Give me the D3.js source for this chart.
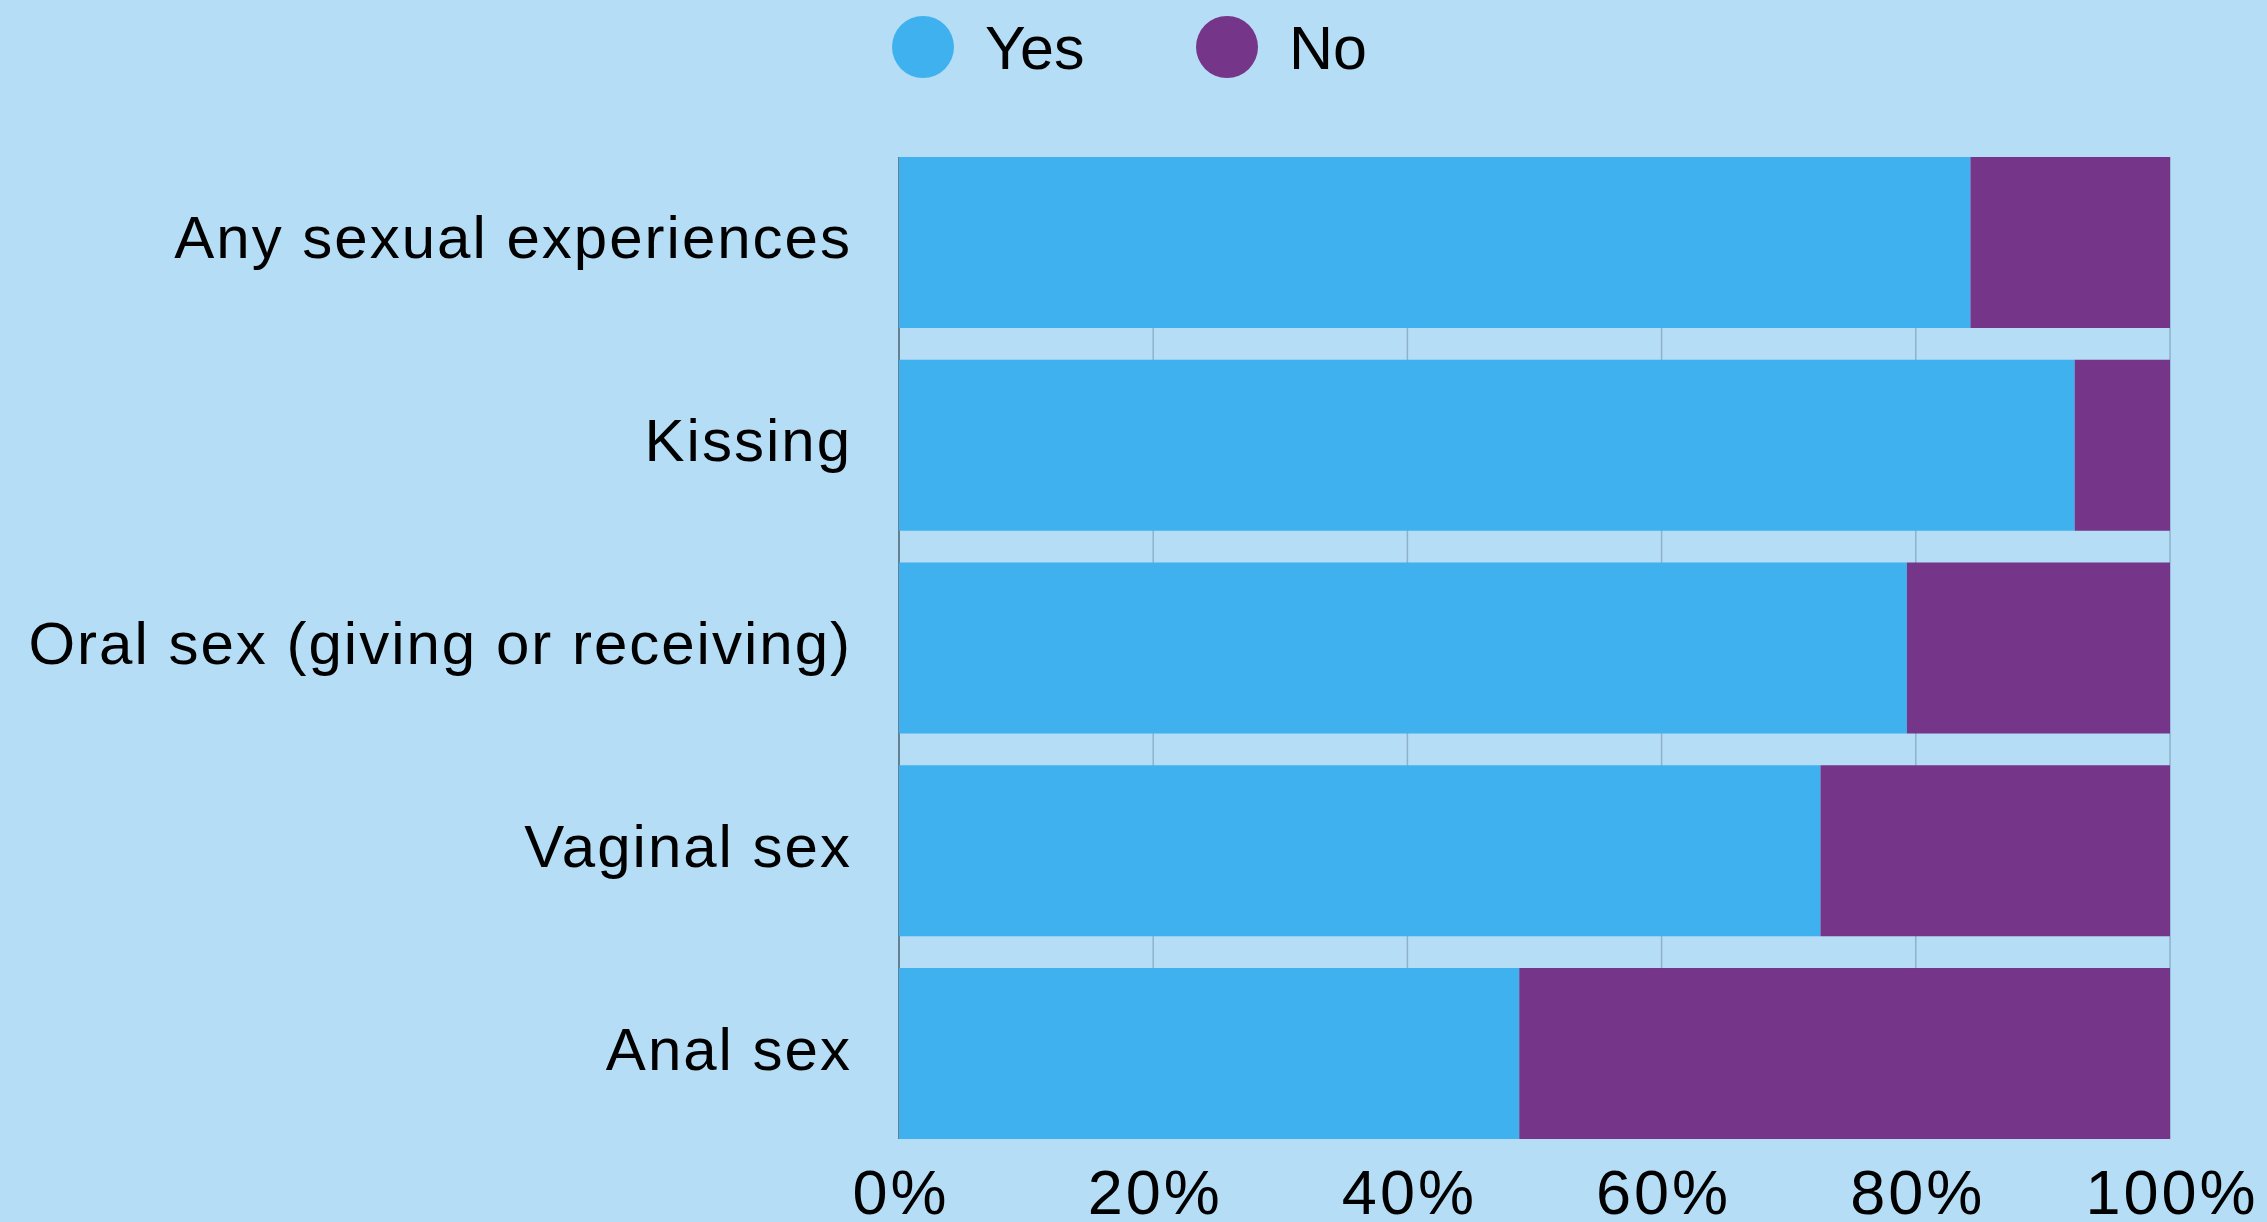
<!DOCTYPE html>
<html>
<head>
<meta charset="utf-8">
<script src="https://cdn.jsdelivr.net/npm/d3@7"></script>
<style>
  html, body { margin: 0; padding: 0; background: #b5ddf5; }
  svg { display: block; }
  text { font-family: "Liberation Sans", Arial, Helvetica, sans-serif; fill: #000; }
</style>
</head>
<body>
<svg id="chart" width="2267" height="1222"></svg>
<script>
const categories = ["Any sexual experiences", "Kissing", "Oral sex (giving or receiving)", "Vaginal sex", "Anal sex"];
const seriesNames = ["Yes", "No"];
const yesValues = [84.3, 92.5, 79.3, 72.5, 48.8];
const noValues = [15.7, 7.5, 20.7, 27.5, 51.2];
const tickValues = [0, 20, 40, 60, 80, 100];
const tickLabels = ["0%", "20%", "40%", "60%", "80%", "100%"];
const colors = ["#3fb1ee", "#753589"];

const W = 2267, H = 1222;
const margin = { left: 899, right: W - 2170, top: 157, bottom: H - 1139 };
const svg = d3.select("#chart");
svg.append("rect").attr("width", W).attr("height", H).attr("fill", "#b5ddf5");

const x = d3.scaleLinear().domain([0, 100]).range([margin.left, W - margin.right]);
const y = d3.scaleBand().domain(categories).range([margin.top, H - margin.bottom]).paddingInner(0.1566).paddingOuter(0);

// gridlines
svg.append("g").selectAll("line").data(tickValues).join("line")
  .attr("x1", d => x(d)).attr("x2", d => x(d))
  .attr("y1", margin.top).attr("y2", H - margin.bottom)
  .attr("stroke", d => d === 0 ? "#4b6072" : "#8eb2ca")
  .attr("stroke-width", 1.5);

// stacked data
const rows = categories.map((c, i) => ({ cat: c, Yes: yesValues[i], No: noValues[i] }));
const stack = d3.stack().keys(seriesNames)(rows);

svg.append("g").selectAll("g").data(stack).join("g")
  .attr("fill", (d, i) => colors[i])
  .selectAll("rect").data(d => d).join("rect")
  .attr("x", d => x(d[0]))
  .attr("width", d => x(d[1]) - x(d[0]))
  .attr("y", d => y(d.data.cat))
  .attr("height", y.bandwidth());

// category labels
svg.append("g").selectAll("text").data(categories).join("text")
  .attr("x", 852)
  .attr("y", d => y(d) + y.bandwidth() / 2 + 16)
  .attr("text-anchor", "end")
  .attr("font-size", 60)
  .attr("letter-spacing", 2)
  .text(d => d);

// x axis labels
svg.append("g").selectAll("text").data(tickValues).join("text")
  .attr("x", d => x(d) + 2)
  .attr("y", 1214)
  .attr("text-anchor", "middle")
  .attr("font-size", 63)
  .attr("letter-spacing", 3)
  .text((d, i) => tickLabels[i]);

// legend
const legendX = [923, 1227];
const lg = svg.append("g").selectAll("g").data(seriesNames).join("g")
  .attr("transform", (d, i) => `translate(${legendX[i]},47)`);
lg.append("circle").attr("r", 31).attr("fill", (d, i) => colors[i]);
lg.append("text").attr("x", 62).attr("y", 22).attr("font-size", 61).text(d => d);
</script>
</body>
</html>
